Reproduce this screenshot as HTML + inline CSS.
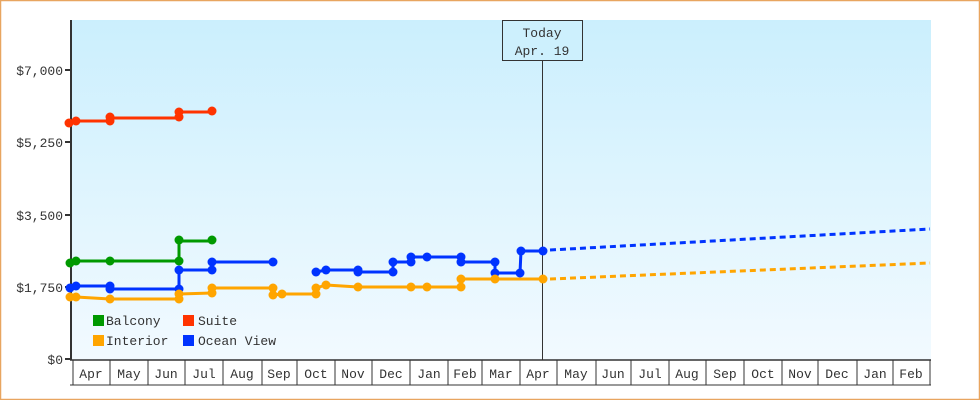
<!DOCTYPE html>
<html><head><meta charset="utf-8"><style>
html,body{margin:0;padding:0;background:#fff}
svg{display:block}
text{font-family:"Liberation Mono","DejaVu Sans Mono",monospace;font-size:13px;fill:#333}
</style></head><body>
<svg width="980" height="400" viewBox="0 0 980 400" xmlns="http://www.w3.org/2000/svg">
<defs>
<linearGradient id="bg" x1="0" y1="0" x2="0" y2="1">
<stop offset="0" stop-color="#cbeffd"/><stop offset="1" stop-color="#f2faff"/>
</linearGradient>
</defs>
<rect x="0.5" y="0.5" width="979" height="399" fill="#fff" stroke="#e8a560" stroke-width="1.5"/>
<rect x="71" y="20" width="860" height="340" fill="url(#bg)"/>
<line x1="71" y1="20" x2="71" y2="360" stroke="#333" stroke-width="2"/>
<g stroke="#333" stroke-width="2">
<line x1="65" y1="70" x2="71" y2="70"/><line x1="65" y1="142" x2="71" y2="142"/>
<line x1="65" y1="215" x2="71" y2="215"/><line x1="65" y1="287" x2="71" y2="287"/>
<line x1="65" y1="359" x2="71" y2="359"/>
</g>
<g text-anchor="end">
<text x="63" y="75">$7,000</text><text x="63" y="147">$5,250</text>
<text x="63" y="220">$3,500</text><text x="63" y="292">$1,750</text>
<text x="63" y="364">$0</text>
</g>
<line x1="70" y1="360" x2="931" y2="360" stroke="#333" stroke-width="1.5"/>
<line x1="70" y1="385" x2="931" y2="385" stroke="#333" stroke-width="1"/>
<g stroke="#333" stroke-width="1">
<line x1="73" y1="360" x2="73" y2="385"/><line x1="110" y1="360" x2="110" y2="385"/>
<line x1="148" y1="360" x2="148" y2="385"/><line x1="185" y1="360" x2="185" y2="385"/>
<line x1="223" y1="360" x2="223" y2="385"/><line x1="262" y1="360" x2="262" y2="385"/>
<line x1="297" y1="360" x2="297" y2="385"/><line x1="335" y1="360" x2="335" y2="385"/>
<line x1="372" y1="360" x2="372" y2="385"/><line x1="410" y1="360" x2="410" y2="385"/>
<line x1="448" y1="360" x2="448" y2="385"/><line x1="482" y1="360" x2="482" y2="385"/>
<line x1="520" y1="360" x2="520" y2="385"/><line x1="557" y1="360" x2="557" y2="385"/>
<line x1="596" y1="360" x2="596" y2="385"/><line x1="631" y1="360" x2="631" y2="385"/>
<line x1="669" y1="360" x2="669" y2="385"/><line x1="706" y1="360" x2="706" y2="385"/>
<line x1="744" y1="360" x2="744" y2="385"/><line x1="782" y1="360" x2="782" y2="385"/>
<line x1="818" y1="360" x2="818" y2="385"/><line x1="857" y1="360" x2="857" y2="385"/>
<line x1="893" y1="360" x2="893" y2="385"/><line x1="930" y1="360" x2="930" y2="385"/>
</g>
<g text-anchor="middle">
<text x="91" y="378">Apr</text><text x="129" y="378">May</text><text x="166" y="378">Jun</text>
<text x="204" y="378">Jul</text><text x="242" y="378">Aug</text><text x="279" y="378">Sep</text>
<text x="316" y="378">Oct</text><text x="353" y="378">Nov</text><text x="391" y="378">Dec</text>
<text x="429" y="378">Jan</text><text x="465" y="378">Feb</text><text x="501" y="378">Mar</text>
<text x="538" y="378">Apr</text><text x="576" y="378">May</text><text x="613" y="378">Jun</text>
<text x="650" y="378">Jul</text><text x="687" y="378">Aug</text><text x="725" y="378">Sep</text>
<text x="763" y="378">Oct</text><text x="800" y="378">Nov</text><text x="837" y="378">Dec</text>
<text x="875" y="378">Jan</text><text x="911" y="378">Feb</text>
</g>
<line x1="542.5" y1="60" x2="542.5" y2="360" stroke="#333" stroke-width="1"/>
<rect x="502.5" y="20.5" width="80" height="40" fill="#cdf0fd" stroke="#333" stroke-width="1"/>
<text x="542" y="37" text-anchor="middle">Today</text>
<text x="542" y="55" text-anchor="middle">Apr. 19</text>
<g fill="none" stroke-width="3" stroke-dasharray="6,4">
<polyline stroke="#0033ff" points="550,250 930,229"/>
<polyline stroke="#ffa500" points="550,279 930,263"/>
</g>
<g fill="none" stroke-width="3" stroke-linejoin="round">
<polyline stroke="#ff3300" points="68,123 75,121 110,121 110,118 179,118 179,112 212,112"/>
<polyline stroke="#009900" points="70,263 76,261 110,261 179,261 179,241 212,241"/>
<polyline stroke="#0033ff" points="70,288 76,286 110,286 110,289 179,289 179,270 212,270 212,262 273,262"/>
<polyline stroke="#0033ff" points="316,272 326,270 358,270 358,272 393,272 393,262 411,262 411,257 427,257 461,257 461,262 495,262 495,273 520,273 521,251 543,251"/>
<polyline stroke="#ffa500" points="70,297 76,297 110,299 179,299 179,294 212,293 212,288 273,288 273,295 282,294 316,294 316,288 326,285 358,287 411,287 427,287 461,287 461,279 495,279 543,279"/>
</g>
<g>
<g fill="#ff3300"><circle cx="69" cy="123" r="4.5"/><circle cx="76" cy="121" r="4.5"/><circle cx="110" cy="121" r="4.5"/><circle cx="110" cy="117" r="4.5"/><circle cx="179" cy="117" r="4.5"/><circle cx="179" cy="112" r="4.5"/><circle cx="212" cy="111" r="4.5"/></g>
<g fill="#009900"><circle cx="70" cy="263" r="4.5"/><circle cx="76" cy="261" r="4.5"/><circle cx="110" cy="261" r="4.5"/><circle cx="179" cy="261" r="4.5"/><circle cx="179" cy="240" r="4.5"/><circle cx="212" cy="240" r="4.5"/></g>
<g fill="#0033ff"><circle cx="70" cy="288" r="4.5"/><circle cx="76" cy="286" r="4.5"/><circle cx="110" cy="286" r="4.5"/><circle cx="110" cy="289" r="4.5"/><circle cx="179" cy="289" r="4.5"/><circle cx="179" cy="270" r="4.5"/><circle cx="212" cy="270" r="4.5"/><circle cx="212" cy="262" r="4.5"/><circle cx="273" cy="262" r="4.5"/>
<circle cx="316" cy="272" r="4.5"/><circle cx="326" cy="270" r="4.5"/><circle cx="358" cy="270" r="4.5"/><circle cx="358" cy="272" r="4.5"/><circle cx="393" cy="272" r="4.5"/><circle cx="393" cy="262" r="4.5"/><circle cx="411" cy="262" r="4.5"/><circle cx="411" cy="257" r="4.5"/><circle cx="427" cy="257" r="4.5"/><circle cx="461" cy="257" r="4.5"/><circle cx="461" cy="262" r="4.5"/><circle cx="495" cy="262" r="4.5"/><circle cx="495" cy="273" r="4.5"/><circle cx="520" cy="273" r="4.5"/><circle cx="521" cy="251" r="4.5"/><circle cx="543" cy="251" r="4.5"/></g>
<g fill="#ffa500"><circle cx="70" cy="297" r="4.5"/><circle cx="76" cy="297" r="4.5"/><circle cx="110" cy="299" r="4.5"/><circle cx="179" cy="299" r="4.5"/><circle cx="179" cy="294" r="4.5"/><circle cx="212" cy="293" r="4.5"/><circle cx="212" cy="288" r="4.5"/><circle cx="273" cy="288" r="4.5"/><circle cx="273" cy="295" r="4.5"/><circle cx="282" cy="294" r="4.5"/><circle cx="316" cy="294" r="4.5"/><circle cx="316" cy="288" r="4.5"/><circle cx="326" cy="285" r="4.5"/><circle cx="358" cy="287" r="4.5"/><circle cx="411" cy="287" r="4.5"/><circle cx="427" cy="287" r="4.5"/><circle cx="461" cy="287" r="4.5"/><circle cx="461" cy="279" r="4.5"/><circle cx="495" cy="279" r="4.5"/><circle cx="543" cy="279" r="4.5"/></g>
</g>
<rect x="93" y="315" width="11" height="11" fill="#009900"/><text x="106" y="325">Balcony</text>
<rect x="183" y="315" width="11" height="11" fill="#ff3300"/><text x="198" y="325">Suite</text>
<rect x="93" y="335" width="11" height="11" fill="#ffa500"/><text x="106" y="345">Interior</text>
<rect x="183" y="335" width="11" height="11" fill="#0033ff"/><text x="198" y="345">Ocean View</text>
</svg>
</body></html>
